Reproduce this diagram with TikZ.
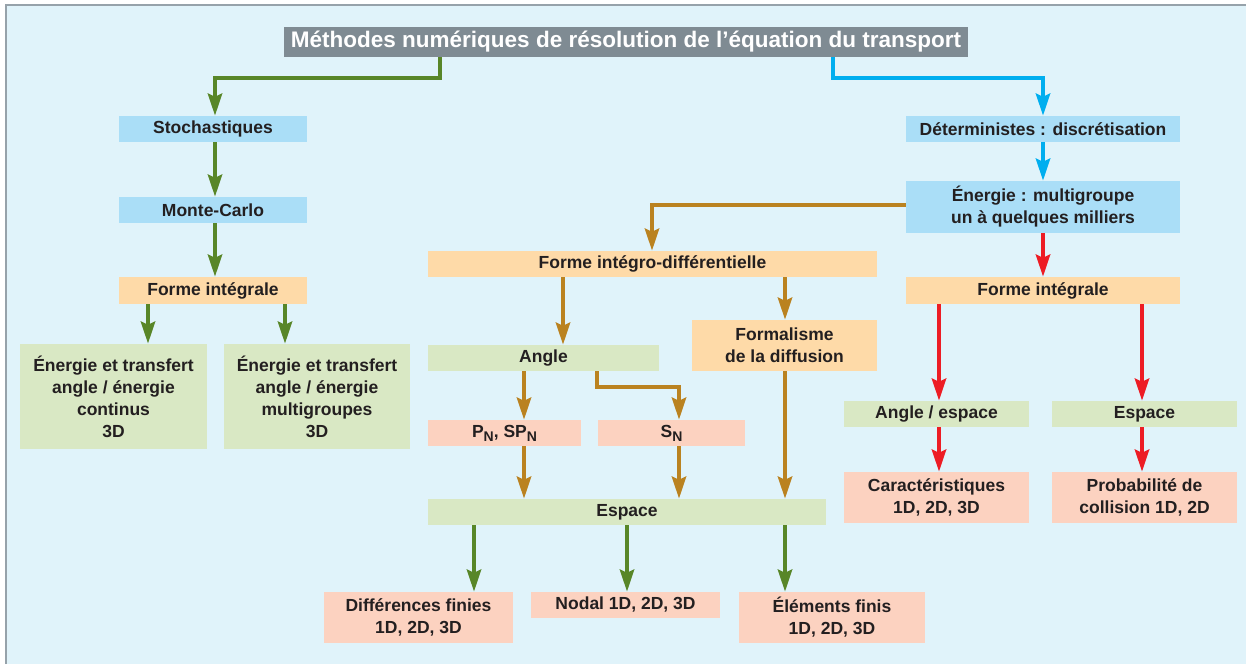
\documentclass[tikz,border=0pt]{standalone}
\usepackage{fontspec}
\setmainfont{Liberation Sans}
\usetikzlibrary{arrows.meta}

\definecolor{fond}{RGB}{224,243,250}
\definecolor{cadre}{RGB}{150,162,170}
\definecolor{titregris}{RGB}{127,139,147}
\definecolor{bleuboite}{RGB}{170,222,247}
\definecolor{peche}{RGB}{254,218,168}
\definecolor{vertboite}{RGB}{217,232,196}
\definecolor{roseboite}{RGB}{252,210,192}
\definecolor{texte}{RGB}{35,31,32}
\definecolor{vertfl}{RGB}{88,134,40}
\definecolor{bleufl}{RGB}{0,174,239}
\definecolor{brunfl}{RGB}{186,130,32}
\definecolor{rougefl}{RGB}{237,28,36}

\newcommand{\lowN}{\raisebox{-0.45ex}{\fontsize{14}{14}\selectfont N}}

\tikzset{
  boite/.style={inner sep=0pt, align=center, text=texte,
    font=\fontsize{17.5}{22}\selectfont\bfseries},
  fleche/.style={line width=4.5pt, -{Stealth[length=22pt, width=14pt, inset=3pt]}}
}

\begin{document}
\begin{tikzpicture}[x=1pt, y=-1pt]
  \useasboundingbox (0,0) rectangle (1246,664);

  % fond et cadre
  \fill[fond] (6,5) rectangle (1246,664);
  \draw[cadre, line width=2pt] (6,664) -- (6,5) -- (1246,5);

  % titre
  \node[boite, fill=titregris, text=white, minimum width=684, minimum height=30,
        font=\fontsize{22.5}{24}\selectfont\bfseries] (titre) at (626,42)
        {Méthodes numériques de résolution de l’équation du transport};

  % branche stochastique
  \node[boite, fill=bleuboite, minimum width=188, minimum height=26] (stoch) at (213,129) {Stochastiques};
  \node[boite, fill=bleuboite, minimum width=188, minimum height=26] (monte) at (213,210) {Monte-Carlo};
  \node[boite, fill=peche, minimum width=188, minimum height=27] (integG) at (213,290.5) {Forme intégrale};
  \node[boite, fill=vertboite, minimum width=187, minimum height=105] (enerA) at (113.5,396.5)
        {Énergie et transfert\\angle / énergie\\continus\\3D};
  \node[boite, fill=vertboite, minimum width=186, minimum height=105] (enerB) at (317,396.5)
        {Énergie et transfert\\angle / énergie\\multigroupes\\3D};

  % branche déterministe
  \node[boite, fill=bleuboite, minimum width=274, minimum height=26] (deter) at (1043,129) {Déterministes : discrétisation};
  \node[boite, fill=bleuboite, minimum width=274, minimum height=52] (energie) at (1043,207)
        {Énergie : multigroupe\\un à quelques milliers};

  % forme intégro-différentielle
  \node[boite, fill=peche, minimum width=449, minimum height=26] (integro) at (652.5,264) {Forme intégro-différentielle};
  \node[boite, fill=peche, minimum width=185, minimum height=51] (diffus) at (784.5,345.5) {Formalisme\\de la diffusion};
  \node[boite, fill=vertboite, minimum width=231, minimum height=26] (angle) at (543.5,358) {Angle};
  \node[boite, fill=roseboite, minimum width=153, minimum height=26] (pn) at (504.5,433) {P\lowN, SP\lowN};
  \node[boite, fill=roseboite, minimum width=147, minimum height=26] (sn) at (671.5,433) {S\lowN};
  \node[boite, fill=vertboite, minimum width=398, minimum height=26] (espace) at (627,512) {Espace};
  \node[boite, fill=roseboite, minimum width=189, minimum height=51] (difffin) at (418.5,617.5) {Différences finies\\1D, 2D, 3D};
  \node[boite, fill=roseboite, minimum width=189, minimum height=26] (nodal) at (625.5,605) {Nodal 1D, 2D, 3D};
  \node[boite, fill=roseboite, minimum width=186, minimum height=51] (elemfin) at (832,617.5) {Éléments finis\\1D, 2D, 3D};

  % forme intégrale
  \node[boite, fill=peche, minimum width=274, minimum height=27] (integD) at (1043,290.5) {Forme intégrale};
  \node[boite, fill=vertboite, minimum width=185, minimum height=26] (angesp) at (936.5,414) {Angle / espace};
  \node[boite, fill=vertboite, minimum width=185, minimum height=26] (espD) at (1144.5,414) {Espace};
  \node[boite, fill=roseboite, minimum width=185, minimum height=51] (caract) at (936.5,497.5) {Caractéristiques\\1D, 2D, 3D};
  \node[boite, fill=roseboite, minimum width=185, minimum height=51] (proba) at (1144.5,497.5) {Probabilité de\\collision 1D, 2D};

  % flèches vertes
  \draw[fleche, vertfl] (titre.south -| 440,0) -- ++(0,21) -| (stoch.north -| 215,0);
  \draw[fleche, vertfl] (stoch.south -| 215,0) -- (monte.north -| 215,0);
  \draw[fleche, vertfl] (monte.south -| 215,0) -- (integG.north -| 215,0);
  \draw[fleche, vertfl] (integG.south -| 148,0) -- (enerA.north -| 148,0);
  \draw[fleche, vertfl] (integG.south -| 285,0) -- (enerB.north -| 285,0);
  \foreach \cible/\x in {difffin/474, nodal/627, elemfin/785}
    \draw[fleche, vertfl] (espace.south -| \x,0) -- (\cible.north -| \x,0);

  % flèches bleues
  \draw[fleche, bleufl] (titre.south -| 833,0) -- ++(0,21) -| (deter.north);
  \draw[fleche, bleufl] (deter.south) -- (energie.north);

  % flèches brunes
  \draw[fleche, brunfl] (energie.west |- 0,205) -| (integro.north -| 652,0);
  \draw[fleche, brunfl] (integro.south -| 563,0) -- (angle.north -| 563,0);
  \draw[fleche, brunfl] (integro.south -| 785,0) -- (diffus.north -| 785,0);
  \draw[fleche, brunfl] (angle.south -| 524,0) -- (pn.north -| 524,0);
  \draw[fleche, brunfl] (angle.south -| 597,0) -- ++(0,16) -| (sn.north -| 679,0);
  \draw[fleche, brunfl] (pn.south -| 524,0) -- (espace.north -| 524,0);
  \draw[fleche, brunfl] (sn.south -| 679,0) -- (espace.north -| 679,0);
  \draw[fleche, brunfl] (diffus.south -| 785,0) -- (espace.north -| 785,0);

  % flèches rouges
  \draw[fleche, rougefl] (energie.south) -- (integD.north);
  \draw[fleche, rougefl] (integD.south -| 939,0) -- (angesp.north -| 939,0);
  \draw[fleche, rougefl] (integD.south -| 1142,0) -- (espD.north -| 1142,0);
  \draw[fleche, rougefl] (angesp.south -| 939,0) -- (caract.north -| 939,0);
  \draw[fleche, rougefl] (espD.south -| 1142,0) -- (proba.north -| 1142,0);
\end{tikzpicture}
\end{document}
